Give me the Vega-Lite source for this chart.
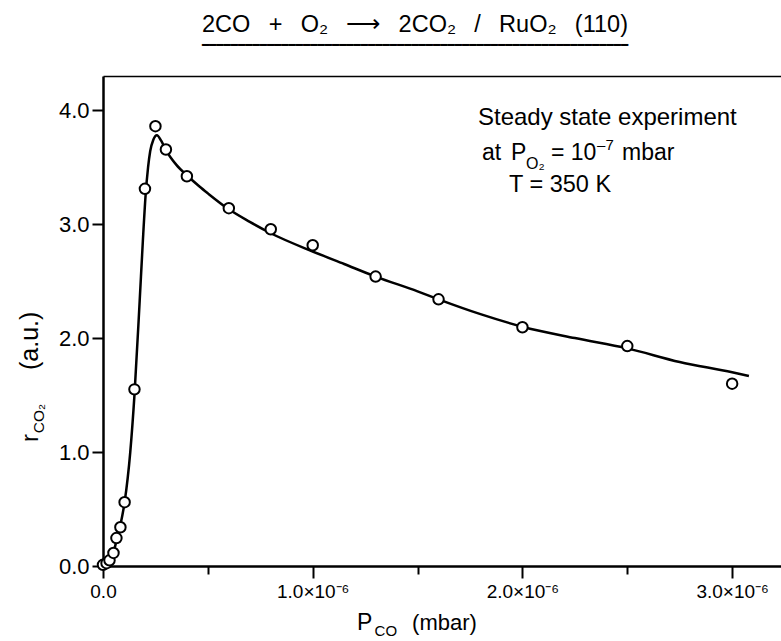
{
  "$schema": "https://vega.github.io/schema/vega-lite/v6.json",
  "width": 678,
  "height": 490,
  "autosize": {"type": "none"},
  "padding": {"left": 103, "top": 76, "right": 0, "bottom": 75},
  "background": "white",
  "config": {
    "view": {"stroke": null},
    "font": "Liberation Sans",
    "text": {"font": "Liberation Sans", "color": "black", "align": "left", "baseline": "alphabetic"}
  },
  "title": {
    "text": "2CO \u2002+ \u2002O₂ \u2002⟶ \u20022CO₂ \u2002/ \u2002RuO₂ \u2002(110)",
    "subtitle": "━━━━━━━━━━━━━━━━━━━━━━━━━━━━━━━━━━━━━━━━━━━━━━━━━━━━━━━━━━━",
    "font": "Liberation Sans",
    "fontSize": 23.5,
    "fontWeight": "normal",
    "color": "black",
    "subtitleFont": "DejaVu Sans Mono",
    "subtitleFontSize": 12,
    "subtitleFontWeight": "bold",
    "subtitleColor": "black",
    "subtitlePadding": 4,
    "anchor": "middle",
    "frame": "group",
    "dx": -27,
    "offset": 25
  },
  "datasets": {
    "pts": [
      {"p": 0, "r": 0.01},
      {"p": 1.7e-8, "r": 0.025},
      {"p": 3.1e-8, "r": 0.05},
      {"p": 5.0e-8, "r": 0.115},
      {"p": 6.4e-8, "r": 0.245},
      {"p": 8.3e-8, "r": 0.34},
      {"p": 1.03e-7, "r": 0.56},
      {"p": 1.5e-7, "r": 1.55},
      {"p": 2.0e-7, "r": 3.31},
      {"p": 2.5e-7, "r": 3.86},
      {"p": 3.0e-7, "r": 3.655},
      {"p": 4.0e-7, "r": 3.42},
      {"p": 6.0e-7, "r": 3.14},
      {"p": 8.0e-7, "r": 2.955},
      {"p": 1.0e-6, "r": 2.815},
      {"p": 1.3e-6, "r": 2.54},
      {"p": 1.6e-6, "r": 2.34},
      {"p": 2.0e-6, "r": 2.095},
      {"p": 2.5e-6, "r": 1.93},
      {"p": 3.0e-6, "r": 1.6}
    ],
    "curve": [
      {"p": 0, "r": 0},
      {"p": 1.7e-8, "r": 0.02},
      {"p": 3.1e-8, "r": 0.05},
      {"p": 5.0e-8, "r": 0.12},
      {"p": 6.4e-8, "r": 0.22},
      {"p": 8.3e-8, "r": 0.36},
      {"p": 1.03e-7, "r": 0.56},
      {"p": 1.3e-7, "r": 1.0},
      {"p": 1.5e-7, "r": 1.5},
      {"p": 1.75e-7, "r": 2.33},
      {"p": 1.9e-7, "r": 2.85},
      {"p": 2.03e-7, "r": 3.25},
      {"p": 2.15e-7, "r": 3.5},
      {"p": 2.25e-7, "r": 3.64},
      {"p": 2.4e-7, "r": 3.74},
      {"p": 2.57e-7, "r": 3.78},
      {"p": 2.78e-7, "r": 3.73},
      {"p": 3.0e-7, "r": 3.65},
      {"p": 3.5e-7, "r": 3.52},
      {"p": 4.05e-7, "r": 3.42},
      {"p": 4.6e-7, "r": 3.33},
      {"p": 5.0e-7, "r": 3.27},
      {"p": 6.0e-7, "r": 3.13},
      {"p": 7.0e-7, "r": 3.02},
      {"p": 8.0e-7, "r": 2.92},
      {"p": 1.0e-6, "r": 2.76},
      {"p": 1.15e-6, "r": 2.65},
      {"p": 1.3e-6, "r": 2.54},
      {"p": 1.5e-6, "r": 2.41},
      {"p": 1.6e-6, "r": 2.34},
      {"p": 1.8e-6, "r": 2.21},
      {"p": 2.0e-6, "r": 2.1},
      {"p": 2.25e-6, "r": 2.0},
      {"p": 2.5e-6, "r": 1.91},
      {"p": 2.75e-6, "r": 1.79},
      {"p": 3.0e-6, "r": 1.7},
      {"p": 3.08e-6, "r": 1.667}
    ]
  },
  "resolve": {"axis": {"x": "independent", "y": "independent"}},
  "layer": [
    {
      "data": {"name": "curve"},
      "mark": {"type": "line", "color": "black", "strokeWidth": 2.5, "interpolate": "monotone"},
      "encoding": {
        "x": {
          "field": "p", "type": "quantitative",
          "scale": {"domain": [0, 3.233e-6], "nice": false, "zero": false},
          "axis": {
            "orient": "bottom",
            "title": null,
            "grid": false,
            "values": [0, 5e-7, 1e-6, 1.5e-6, 2e-6, 2.5e-6, 3e-6],
            "labelExpr": "abs(datum.value*1e6 - round(datum.value*1e6)) > 0.01 ? '' : (datum.value == 0 ? '0.0' : format(datum.value*1e6, '.1f') + '×10⁻⁶')",
            "tickSize": {"condition": {"test": "abs(datum.value*1e6 - round(datum.value*1e6)) < 0.01", "value": 12}, "value": 8},
            "tickWidth": 2,
            "tickColor": "black",
            "domainColor": "black",
            "domainWidth": 2.5,
            "labelFont": "Liberation Sans",
            "labelFontSize": 19,
            "labelColor": "black",
            "labelPadding": 4,
            "labelFlush": false,
            "labelOverlap": false
          }
        },
        "y": {
          "field": "r", "type": "quantitative",
          "scale": {"domain": [0, 4.3], "nice": false},
          "axis": {
            "orient": "left",
            "title": null,
            "grid": false,
            "values": [0, 1, 2, 3, 4],
            "format": ".1f",
            "tickSize": 11,
            "tickWidth": 2,
            "tickColor": "black",
            "domainColor": "black",
            "domainWidth": 2.5,
            "labelFont": "Liberation Sans",
            "labelFontSize": 22,
            "labelColor": "black",
            "labelPadding": 3,
            "labelFlush": false,
            "labelOverlap": false
          }
        }
      }
    },
    {
      "data": {"name": "pts"},
      "mark": {"type": "point", "shape": "circle", "filled": false, "fill": "white", "fillOpacity": 1, "stroke": "black", "strokeWidth": 2, "size": 110, "opacity": 1},
      "encoding": {
        "x": {
          "field": "p", "type": "quantitative",
          "axis": {"orient": "top", "labels": false, "ticks": false, "domain": true, "domainColor": "black", "domainWidth": 1.5, "grid": false, "title": null}
        },
        "y": {"field": "r", "type": "quantitative", "axis": null}
      }
    },
    {
      "data": {"values": [{}]},
      "mark": {"type": "text", "text": "Steady state experiment", "fontSize": 24},
      "encoding": {"x": {"datum": 1.788e-6, "type": "quantitative", "axis": null}, "y": {"datum": 3.868, "type": "quantitative", "axis": null}}
    },
    {
      "data": {"values": [{}]},
      "mark": {"type": "text", "text": "at", "fontSize": 23},
      "encoding": {"x": {"datum": 1.807e-6, "type": "quantitative", "axis": null}, "y": {"datum": 3.561, "type": "quantitative", "axis": null}}
    },
    {
      "data": {"values": [{}]},
      "mark": {"type": "text", "text": "P", "fontSize": 23},
      "encoding": {"x": {"datum": 1.946e-6, "type": "quantitative", "axis": null}, "y": {"datum": 3.561, "type": "quantitative", "axis": null}}
    },
    {
      "data": {"values": [{}]},
      "mark": {"type": "text", "text": "O₂", "fontSize": 16},
      "encoding": {"x": {"datum": 2.017e-6, "type": "quantitative", "axis": null}, "y": {"datum": 3.482, "type": "quantitative", "axis": null}}
    },
    {
      "data": {"values": [{}]},
      "mark": {"type": "text", "text": "= 10", "fontSize": 23},
      "encoding": {"x": {"datum": 2.136e-6, "type": "quantitative", "axis": null}, "y": {"datum": 3.561, "type": "quantitative", "axis": null}}
    },
    {
      "data": {"values": [{}]},
      "mark": {"type": "text", "text": "–7", "fontSize": 15},
      "encoding": {"x": {"datum": 2.356e-6, "type": "quantitative", "axis": null}, "y": {"datum": 3.649, "type": "quantitative", "axis": null}}
    },
    {
      "data": {"values": [{}]},
      "mark": {"type": "text", "text": "mbar", "fontSize": 23},
      "encoding": {"x": {"datum": 2.475e-6, "type": "quantitative", "axis": null}, "y": {"datum": 3.561, "type": "quantitative", "axis": null}}
    },
    {
      "data": {"values": [{}]},
      "mark": {"type": "text", "text": "T = 350 K", "fontSize": 23.5},
      "encoding": {"x": {"datum": 1.936e-6, "type": "quantitative", "axis": null}, "y": {"datum": 3.281, "type": "quantitative", "axis": null}}
    },
    {
      "data": {"values": [{}]},
      "mark": {"type": "text", "text": "P", "fontSize": 23},
      "encoding": {"x": {"datum": 1.211e-6, "type": "quantitative", "axis": null}, "y": {"datum": -0.561, "type": "quantitative", "axis": null}}
    },
    {
      "data": {"values": [{}]},
      "mark": {"type": "text", "text": "CO", "fontSize": 15},
      "encoding": {"x": {"datum": 1.295e-6, "type": "quantitative", "axis": null}, "y": {"datum": -0.614, "type": "quantitative", "axis": null}}
    },
    {
      "data": {"values": [{}]},
      "mark": {"type": "text", "text": "(mbar)", "fontSize": 22},
      "encoding": {"x": {"datum": 1.474e-6, "type": "quantitative", "axis": null}, "y": {"datum": -0.561, "type": "quantitative", "axis": null}}
    },
    {
      "data": {"values": [{}]},
      "mark": {"type": "text", "text": "r", "fontSize": 24, "angle": 270},
      "encoding": {"x": {"datum": -3.1e-7, "type": "quantitative", "axis": null}, "y": {"datum": 1.088, "type": "quantitative", "axis": null}}
    },
    {
      "data": {"values": [{}]},
      "mark": {"type": "text", "text": "CO₂", "fontSize": 15.5, "angle": 270},
      "encoding": {"x": {"datum": -2.81e-7, "type": "quantitative", "axis": null}, "y": {"datum": 1.165, "type": "quantitative", "axis": null}}
    },
    {
      "data": {"values": [{}]},
      "mark": {"type": "text", "text": "(a.u.)", "fontSize": 25, "angle": 270},
      "encoding": {"x": {"datum": -3.1e-7, "type": "quantitative", "axis": null}, "y": {"datum": 1.72, "type": "quantitative", "axis": null}}
    }
  ]
}
